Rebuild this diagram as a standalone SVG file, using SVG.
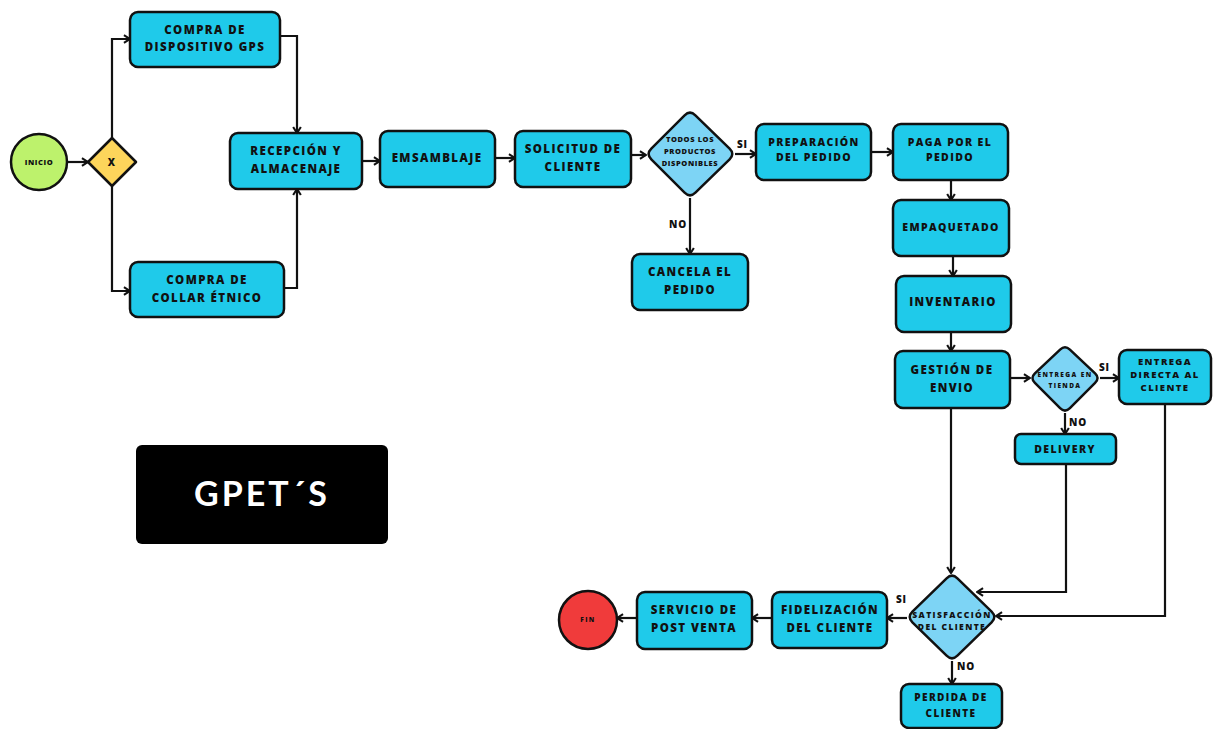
<svg xmlns="http://www.w3.org/2000/svg" width="1215" height="729" viewBox="0 0 1215 729">
<defs>
<marker id="ah" viewBox="0 0 10 10" refX="9" refY="5" markerWidth="11" markerHeight="11" orient="auto-start-reverse" markerUnits="userSpaceOnUse">
<path d="M3.5,1.5 L9,5 L3.5,8.5" fill="none" stroke="#111" stroke-width="1.9" stroke-linejoin="miter"/>
</marker>
<style>
.box{fill:#1fcaea;stroke:#111;stroke-width:2.5}
.dia{fill:#7dd4f5;stroke:#111;stroke-width:2.5}
.t{font-family:"Open Sans","Liberation Sans",sans-serif;font-weight:800;fill:#111;text-anchor:middle;letter-spacing:1.4px}
.m{font-size:11.5px}
.s{font-size:7.5px;letter-spacing:0.6px}
.l{font-family:"Open Sans","Liberation Sans",sans-serif;font-weight:800;fill:#111;font-size:10px;letter-spacing:0.8px}
.c{fill:none;stroke:#111;stroke-width:2.2;marker-end:url(#ah)}
</style>
</defs>
<rect width="1215" height="729" fill="#fff"/>
<g id="connectors">
<path class="c" d="M68,162 H88"/>
<path class="c" d="M112,138 V39 H130"/>
<path class="c" d="M112,186 V291 H130"/>
<path class="c" d="M280,36 H297 V133"/>
<path class="c" d="M284,288 H297 V189"/>
<path class="c" d="M362,161 H380"/>
<path class="c" d="M495,158 H515"/>
<path class="c" d="M631,155 H646"/>
<path class="c" d="M735,154 H756"/>
<path class="c" d="M690,198 V254"/>
<path class="c" d="M871,152 H893"/>
<path class="c" d="M951,180 V200"/>
<path class="c" d="M953,256 V276"/>
<path class="c" d="M951,332 V351"/>
<path class="c" d="M1010,378 H1030"/>
<path class="c" d="M1100,378 H1119"/>
<path class="c" d="M1065,413 V434"/>
<path class="c" d="M951,408 V573"/>
<path class="c" d="M1066,464 V592 H977"/>
<path class="c" d="M1165,404 V616 H996"/>
<path class="c" d="M907,618 H887"/>
<path class="c" d="M952,661 V684"/>
<path class="c" d="M772,618 H752"/>
<path class="c" d="M637,618 H617"/>
<text class="l" x="737" y="148">SI</text>
<text class="l" x="669" y="228">NO</text>
<text class="l" x="1099" y="371">SI</text>
<text class="l" x="1069" y="426">NO</text>
<text class="l" x="896" y="603">SI</text>
<text class="l" x="957" y="670">NO</text>
</g>
<g id="inicio"><circle cx="39" cy="162" r="28" fill="#bdf26c" stroke="#111" stroke-width="2.5"/><text class="t s" x="39" y="165">INICIO</text></g>
<g id="gateway"><path d="M112,138 L136,162 L112,186 L88,162 Z" fill="#fdd55b" stroke="#111" stroke-width="2.5" stroke-linejoin="round"/><text class="t" font-size="10" x="112" y="166">X</text></g>
<g id="gps"><rect class="box" x="130" y="12" width="150" height="55" rx="8"/><text class="t m" x="205" y="34">COMPRA DE</text><text class="t m" x="205" y="51">DISPOSITIVO GPS</text></g>
<g id="collar"><rect class="box" x="130" y="262" width="154" height="55" rx="8"/><text class="t m" x="207" y="284">COMPRA DE</text><text class="t m" x="207" y="302">COLLAR ÉTNICO</text></g>
<g id="recepcion"><rect class="box" x="230" y="133" width="132" height="56" rx="8"/><text class="t m" x="296" y="155">RECEPCIÓN Y</text><text class="t m" x="296" y="173">ALMACENAJE</text></g>
<g id="emsamblaje"><rect class="box" x="380" y="131" width="115" height="56" rx="8"/><text class="t m" x="437" y="162">EMSAMBLAJE</text></g>
<g id="solicitud"><rect class="box" x="515" y="131" width="116" height="56" rx="8"/><text class="t m" x="573" y="153">SOLICITUD DE</text><text class="t m" x="573" y="171">CLIENTE</text></g>
<g id="disponibles"><path class="dia" d="M695.4,115.3 L729.6,148.7 Q735,154 729.6,159.3 L695.4,192.7 Q690,198 684.6,192.7 L651.3,159.3 Q646,154 651.3,148.7 L684.6,115.3 Q690,110 695.4,115.3 Z"/><text class="t s" x="690" y="142">TODOS LOS</text><text class="t s" x="690" y="154">PRODUCTOS</text><text class="t s" x="690" y="166">DISPONIBLES</text></g>
<g id="cancela"><rect class="box" x="632" y="254" width="116" height="56" rx="8"/><text class="t m" x="690" y="276">CANCELA EL</text><text class="t m" x="690" y="294">PEDIDO</text></g>
<g id="preparacion"><rect class="box" x="756" y="124" width="115" height="56" rx="8"/><text class="t" font-size="10.5" x="814" y="146">PREPARACIÓN</text><text class="t" font-size="10.5" x="814" y="161">DEL PEDIDO</text></g>
<g id="paga"><rect class="box" x="893" y="124" width="115" height="56" rx="8"/><text class="t" font-size="10.5" x="950" y="146">PAGA POR EL</text><text class="t" font-size="10.5" x="950" y="161">PEDIDO</text></g>
<g id="empaquetado"><rect class="box" x="893" y="200" width="116" height="56" rx="8"/><text class="t" font-size="10.5" x="951" y="231">EMPAQUETADO</text></g>
<g id="inventario"><rect class="box" x="896" y="276" width="115" height="56" rx="8"/><text class="t m" x="953" y="306">INVENTARIO</text></g>
<g id="gestion"><rect class="box" x="895" y="351" width="115" height="57" rx="8"/><text class="t m" x="952" y="374">GESTIÓN DE</text><text class="t m" x="952" y="392">ENVIO</text></g>
<g id="tienda"><path class="dia" d="M1069.9,349.6 L1095.1,373.4 Q1100,378 1095.1,382.8 L1069.9,408.2 Q1065,413 1060.1,408.2 L1034.9,382.8 Q1030,378 1034.9,373.4 L1060.1,349.6 Q1065,345 1069.9,349.6 Z"/><text class="t" font-size="6.5" letter-spacing="0.5" x="1065" y="377">ENTREGA EN</text><text class="t" font-size="6.5" letter-spacing="0.5" x="1065" y="388">TIENDA</text></g>
<g id="directa"><rect class="box" x="1119" y="350" width="92" height="54" rx="8"/><text class="t" font-size="9.5" letter-spacing="1" x="1165" y="365">ENTREGA</text><text class="t" font-size="9.5" letter-spacing="1" x="1165" y="378">DIRECTA AL</text><text class="t" font-size="9.5" letter-spacing="1" x="1165" y="391">CLIENTE</text></g>
<g id="delivery"><rect class="box" x="1015" y="434" width="101" height="30" rx="6"/><text class="t" font-size="10.5" x="1065" y="453">DELIVERY</text></g>
<g id="gpets"><rect x="136" y="445" width="252" height="99" rx="6" fill="#000"/><text x="262" y="506" font-family="Lato,'Open Sans',sans-serif" font-weight="700" font-size="34" fill="#fff" text-anchor="middle" letter-spacing="3">GPET´S</text></g>
<g id="satisfaccion"><path class="dia" d="M957.4,578.3 L991.6,611.7 Q997,617 991.6,622.3 L957.4,655.7 Q952,661 946.6,655.7 L912.4,622.3 Q907,617 912.4,611.7 L946.6,578.3 Q952,573 957.4,578.3 Z"/><text class="t" font-size="8.5" letter-spacing="0.8" x="952" y="618">SATISFACCIÓN</text><text class="t" font-size="8.5" letter-spacing="0.8" x="952" y="630">DEL CLIENTE</text></g>
<g id="perdida"><rect class="box" x="901" y="684" width="101" height="44" rx="8"/><text class="t" font-size="10" x="951" y="701">PERDIDA DE</text><text class="t" font-size="10" x="951" y="717">CLIENTE</text></g>
<g id="fidelizacion"><rect class="box" x="772" y="592" width="115" height="56" rx="8"/><text class="t m" x="830" y="614">FIDELIZACIÓN</text><text class="t m" x="830" y="632">DEL CLIENTE</text></g>
<g id="postventa"><rect class="box" x="637" y="592" width="115" height="57" rx="8"/><text class="t m" x="694" y="614">SERVICIO DE</text><text class="t m" x="694" y="632">POST VENTA</text></g>
<g id="fin"><circle cx="588" cy="620" r="29" fill="#f03b3b" stroke="#111" stroke-width="2.5"/><text class="t" font-size="6.5" x="588" y="622">FIN</text></g>
</svg>
